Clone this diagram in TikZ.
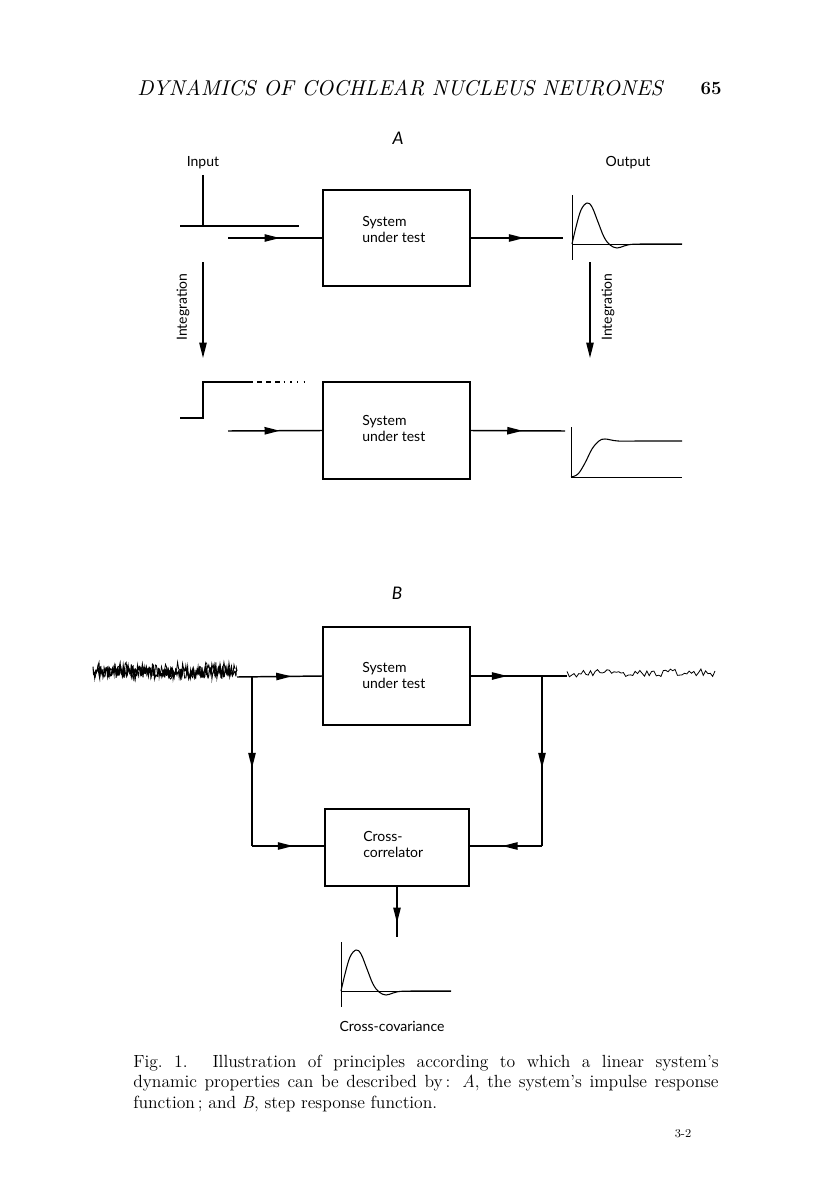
\documentclass[tikz,border=0pt]{standalone}
\usepackage{fontspec}
\usepackage{graphicx}
\newfontfamily\labfont{Lato}
\usetikzlibrary{arrows.meta,decorations.markings}
\tikzset{
  wire/.style={line width=1.1pt},
  box/.style={draw, line width=1.1pt, minimum width=110.25pt, minimum height=72pt, inner sep=0pt},
  lbl/.style={font=\labfont\fontsize{10.5}{12}\selectfont, align=left, inner sep=0pt},
  tri/.tip={Triangle[length=11.5pt,width=5.5pt]},
  midarrow/.style={postaction={decorate}, decoration={markings, mark=at position #1 with {\arrow{tri}}}},
  curve/.style={line width=0.8pt},
  axisline/.style={line width=0.45pt},
  impresp/.pic={
    \draw[axisline] (0,-49) -- (0,16);
    \draw[axisline] (0,0) -- (110,0);
    \draw[curve] plot[smooth, tension=0.6] coordinates {(0,0) (4,-17) (9,-34) (15,-41) (20,-37) (26,-22) (32,-7) (38,1) (45,4) (52,2) (60,0.3) (75,0) (110,0)};
  }
}
\begin{document}
\begin{tikzpicture}[x=0.75pt,y=-0.75pt]
\useasboundingbox (0,0) rectangle (816,1195);
\pgfmathsetseed{4711}
% header
\node[inner sep=0pt] (head) at (400,88) {\resizebox{394pt}{!}{\itshape DYNAMICS OF COCHLEAR NUCLEUS NEURONES}};
\node[inner sep=0pt, font=\bfseries\fontsize{14}{16}\selectfont] (pg) at (711,88) {65};
% ---------- A ----------
\node[lbl, font=\labfont\itshape\fontsize{13}{14}\selectfont] (labA) at (398,138) {A};
\node[lbl] (inlab) at (203,163) {Input};
\node[lbl] (outlab) at (628,163) {Output};
% impulse input
\coordinate (imp1) at (203,175);
\coordinate (imp2) at (203,226);
\coordinate (base1) at (180,226);
\coordinate (base2) at (299,226);
\draw[wire] (imp1) -- (imp2);
\draw[wire] (base1) -- (base2);
% system 1
\node[box] (S1) at (396.5,238) {};
\node[lbl, anchor=west] (S1t) at (362,229) {System\\under test};
\coordinate (in1) at (228,238);
\coordinate (out1) at (563,238);
\draw[wire, midarrow=0.55] (in1) -- (S1.west);
\draw[wire, midarrow=0.58] (S1.east) -- (out1);
\pic at (572,244) {impresp};
% integration arrows
\coordinate (iL1) at (203,262);
\coordinate (iL2) at (203,358);
\coordinate (iR1) at (590,262);
\coordinate (iR2) at (590,358);
\draw[wire,-tri] (iL1) -- (iL2);
\draw[wire,-tri] (iR1) -- (iR2);
\node[lbl, rotate=90] (intL) at (183,307) {Integration};
\node[lbl, rotate=90] (intR) at (608,307) {Integration};
% step input
\coordinate (st1) at (180,418);
\coordinate (st2) at (203,418);
\coordinate (st3) at (203,382);
\coordinate (st4) at (253,382);
\coordinate (st4b) at (257,382);
\coordinate (st5) at (281,382);
\coordinate (st6) at (305,382);
\draw[wire] (st1) -- (st2) -- (st3) -- (st4);
\draw[line width=1.1pt, dash pattern=on 3.75pt off 3pt] (st4b) -- (st5);
\draw[line width=1.1pt, dash pattern=on 1pt off 4pt] ([xshift=2pt]st5) -- (st6);
% system 2
\node[box, minimum height=72.75pt] (S2) at (396.5,430.5) {};
\node[lbl, anchor=west] (S2t) at (362,428) {System\\under test};
\coordinate (in2) at (228,431);
\coordinate (out2) at (565,431);
\draw[wire, midarrow=0.55] (in2) -- (S2.west);
\draw[wire, midarrow=0.55] (S2.east) -- (out2);
% step response
\draw[axisline] (571,427) -- (571,477) -- (682,477);
\draw[curve] plot[smooth, tension=0.6] coordinates {(571,477) (578,474) (585,463) (592,449) (599,441) (605,439) (618,441) (640,441) (682,441)};
% ---------- B ----------
\node[lbl, font=\labfont\itshape\fontsize{13}{14}\selectfont] (labB) at (397,593) {B};
\node[box, minimum height=73.5pt] (S3) at (396.5,676) {};
\node[lbl, anchor=west] (S3t) at (362,675) {System\\under test};
% input noise
\draw[line width=0.8pt] plot[domain=93:237, samples=260] (\x, {672+6*rand});
\draw[line width=0.6pt] plot[domain=95:235, samples=140] (\x, {671+9*rand});
\coordinate (nIn) at (237,677);
\coordinate (nOut) at (567,676);
\draw[wire, midarrow=0.64] (nIn) -- (S3.west);
\draw[wire, midarrow=0.38] (S3.east) -- (nOut);
% output noise
\draw[line width=0.6pt] plot[domain=567:715, samples=64] (\x, {673+4*rand});
% cross-correlator
\node[box, minimum width=108pt, minimum height=57.75pt] (C) at (397,847.5) {};
\node[lbl, anchor=west] (Ct) at (363,844.5) {Cross-\\correlator};
\coordinate (bL) at (252,677);
\coordinate (cL) at (252,846);
\coordinate (bR) at (542,677);
\coordinate (cR) at (542,846);
\draw[wire, midarrow=0.54] (bL) -- (cL);
\draw[wire, midarrow=0.57] (cL) -- (cL -| C.west);
\draw[wire, midarrow=0.54] (bR) -- (cR);
\draw[wire, midarrow=0.55] (cR) -- (cR -| C.east);
\coordinate (cov) at (397,937);
\draw[wire, midarrow=0.72] (C.south) -- (cov);
\pic at (341,991) {impresp};
\node[lbl] (covlab) at (392,1026) {Cross-covariance};
% caption
\node[anchor=base west, inner sep=0pt] (cap) at (133,1067) {\parbox[t]{439pt}{\fontsize{13.2}{15.4}\selectfont Fig.~1. Illustration of principles according to which a linear system's\linebreak dynamic properties can be described by\,: \textit{A}, the system's impulse response\linebreak function\,; and \textit{B}, step response function.}};
\node[inner sep=0pt, font=\fontsize{9}{10}\selectfont] (pnum) at (683,1134) {3-2};
\end{tikzpicture}
\end{document}
